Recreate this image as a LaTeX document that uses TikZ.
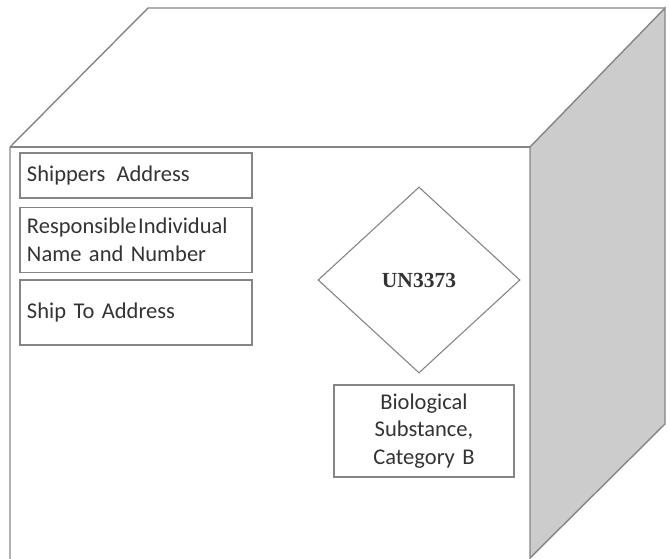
\documentclass[tikz,border=0pt]{standalone}
\usepackage{fontspec}
\setmainfont{Carlito}
\newfontfamily\tnr{Liberation Serif}
\usetikzlibrary{shapes.geometric}
\definecolor{edge}{HTML}{858585}
\definecolor{side}{HTML}{CCCCCC}
\definecolor{ink}{HTML}{333333}
\tikzset{
  cubeline/.style={draw=edge, line width=1.4pt, line join=miter},
  labelbox/.style={draw=edge, line width=1.3pt, minimum width=232pt, text width=218pt,
     inner xsep=7pt, align=left, text=ink, font=\fontsize{22.5}{27.5}\selectfont},
  biobox/.style={draw=edge, line width=1.3pt, minimum width=180pt, minimum height=92pt,
     text width=174pt, inner xsep=3pt, align=center, text=ink, font=\fontsize{22.5}{27.5}\selectfont},
  placard/.style={shape=diamond, draw=edge, line width=1.1pt, minimum width=202pt,
     minimum height=186pt, inner sep=0pt, text=ink, font=\tnr\bfseries\fontsize{21.5}{24}\selectfont}
}
\begin{document}
\begin{tikzpicture}[x=1pt,y=-1pt]
\useasboundingbox (0,0) rectangle (670,558);
% cube corners
\coordinate (btl) at (148,8);
\coordinate (btr) at (665,8);
\coordinate (ftl) at (10,147);
\coordinate (ftr) at (530,147);
\coordinate (fbl) at (10,560);
\coordinate (fbr) at (530,558);
\coordinate (bbr) at (665,424);
% right face
\fill[side] (ftr) -- (btr) -- (bbr) -- (fbr) -- cycle;
\draw[cubeline] (ftr) -- (btr) -- (bbr) -- (fbr) -- cycle;
% top face
\draw[cubeline] (fbl) -- (ftl) -- (btl) -- (btr);
\draw[cubeline] (ftl) -- (ftr);
% labels
\node[labelbox, minimum height=45pt] (ship) at (136,175.5) {Shippers\hspace{0.5em}Address};
\node[labelbox, minimum height=65pt] (resp) at (136,240) {Responsible\hspace{0.08em}Individual\\Name and Number};
\node[labelbox, minimum height=65pt] (dest) at (136,312.5) {Ship To Address};
\node[placard] (un) at (419,280) {UN3373};
\node[biobox] (bio) at (424,431) {Biological\\Substance,\\Category B};
\end{tikzpicture}
\end{document}
